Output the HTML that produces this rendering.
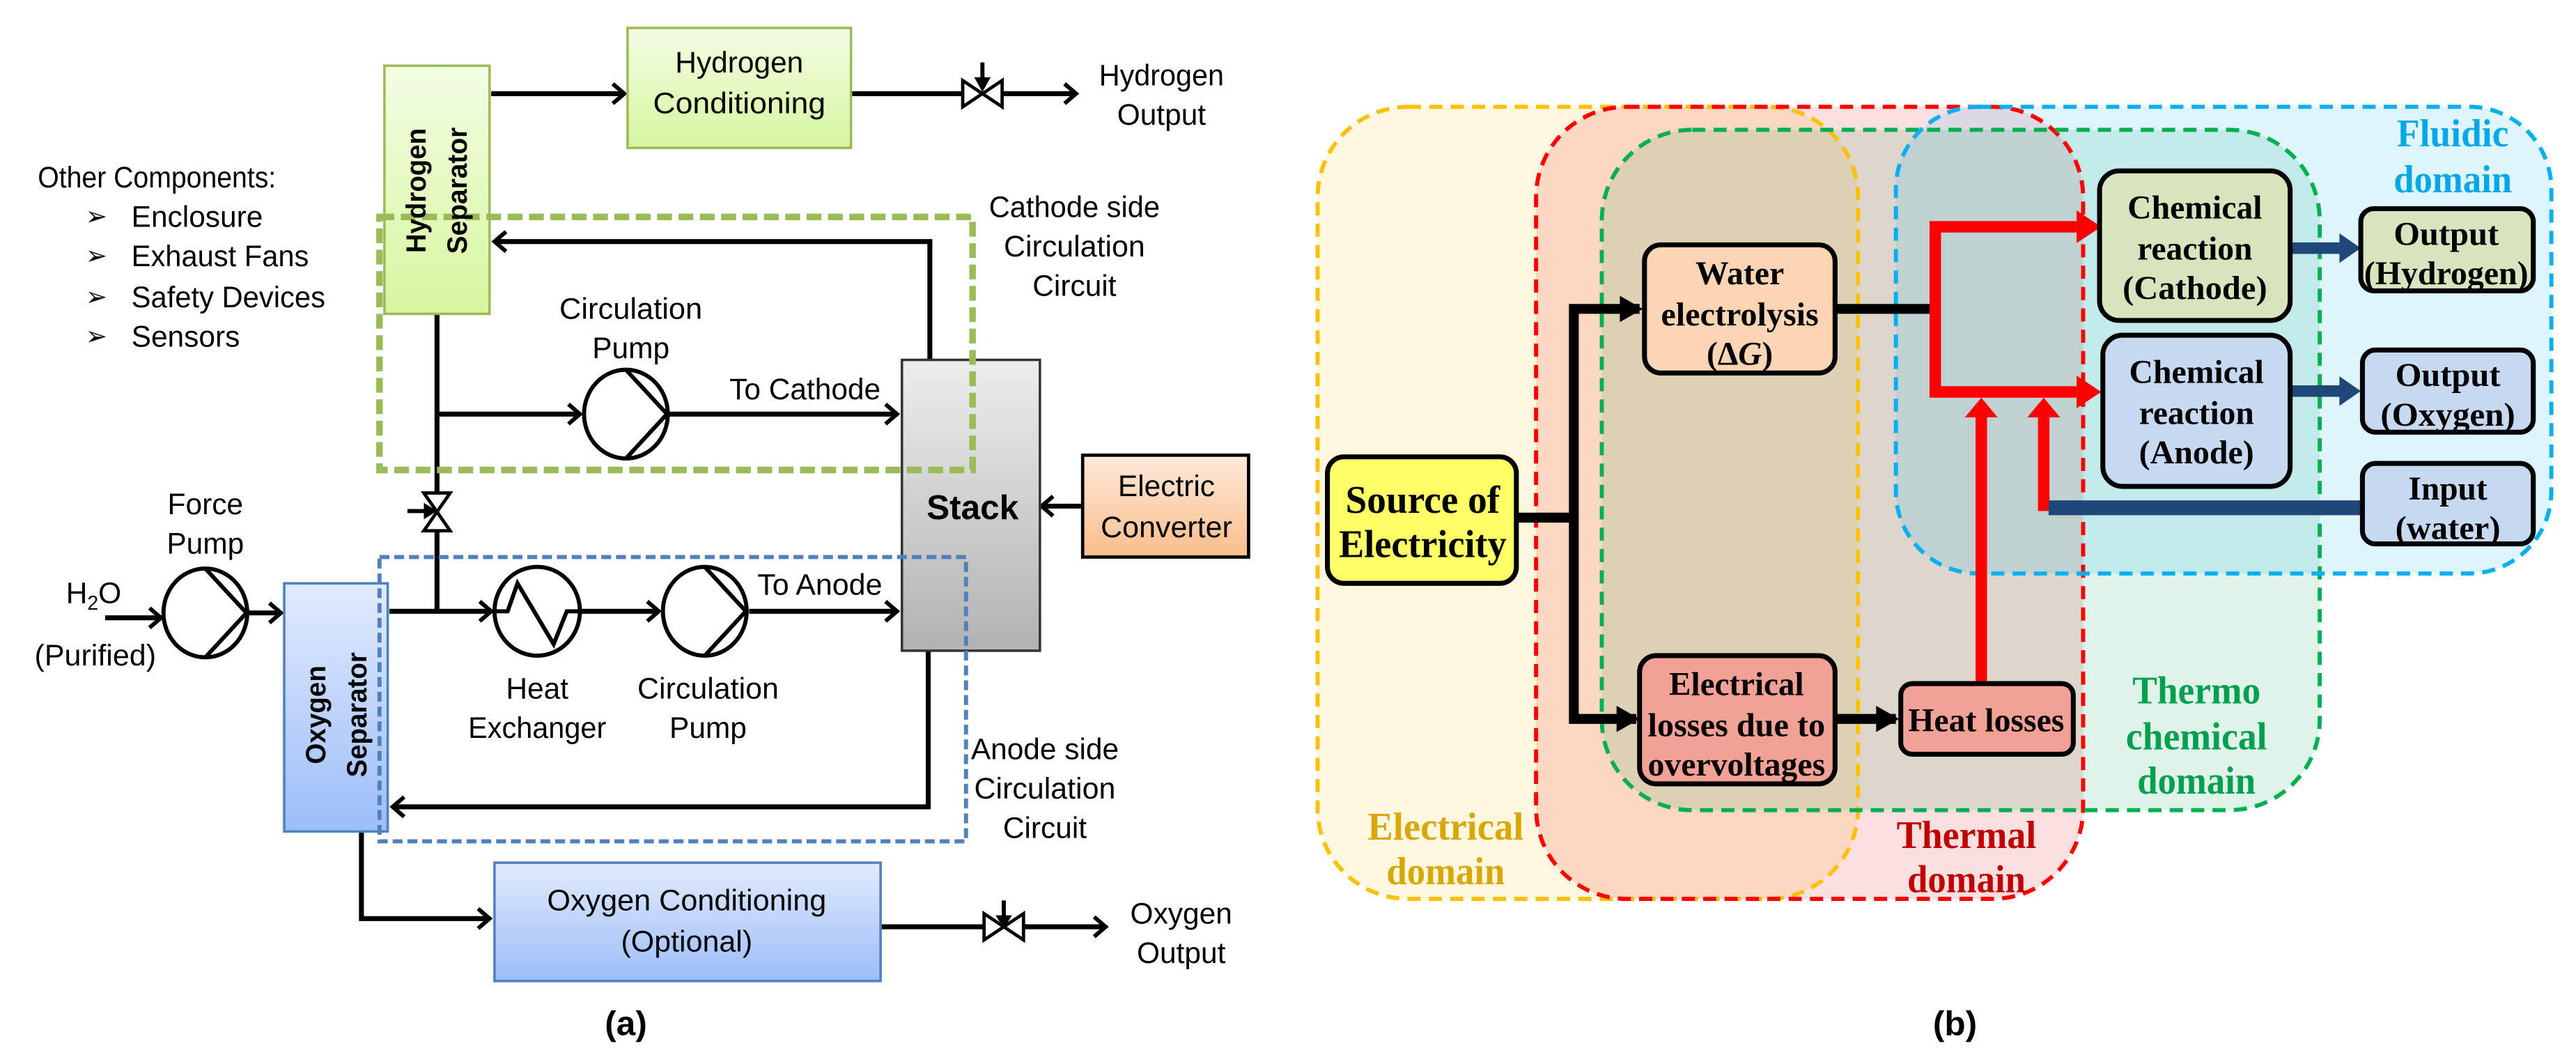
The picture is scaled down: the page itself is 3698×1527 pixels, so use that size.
<!DOCTYPE html>
<html><head><meta charset="utf-8"><style>
html,body{margin:0;padding:0;background:#fff;}
svg{display:block;}
.a{font-family:"Liberation Sans",sans-serif;font-size:18px;fill:#000;}
.b{font-family:"Liberation Serif",serif;font-weight:bold;font-size:20px;fill:#000;}
</style></head><body>
<svg width="3698" height="1527" viewBox="0 0 1568 647.5" preserveAspectRatio="none" xmlns="http://www.w3.org/2000/svg">
<defs>
<linearGradient id="gG" x1="0" y1="0" x2="0" y2="1"><stop offset="0" stop-color="#f3fde3"/><stop offset="1" stop-color="#d6f6a0"/></linearGradient>
<linearGradient id="gB" x1="0" y1="0" x2="0" y2="1"><stop offset="0" stop-color="#e2ebfd"/><stop offset="1" stop-color="#9cbdf9"/></linearGradient>
<linearGradient id="gS" x1="0" y1="0" x2="0" y2="1"><stop offset="0" stop-color="#ededed"/><stop offset="1" stop-color="#b2b2b2"/></linearGradient>
<linearGradient id="gO" x1="0" y1="0" x2="0" y2="1"><stop offset="0" stop-color="#fde9d9"/><stop offset="1" stop-color="#fbbd8c"/></linearGradient>
<marker id="ma" markerWidth="12" markerHeight="14" refX="9" refY="7" orient="auto" markerUnits="userSpaceOnUse"><path d="M2,1 L9,7 L2,13" fill="none" stroke="#000" stroke-width="2.5"/></marker>
</defs>

<!-- ============ PANEL A ============ -->
<g stroke="#000" stroke-width="3" fill="none">
<line x1="299" y1="57" x2="380" y2="57" marker-end="url(#ma)"/>
<line x1="518" y1="57" x2="586" y2="57"/>
<line x1="610" y1="57" x2="655" y2="57" marker-end="url(#ma)"/>
<polyline points="566,219 566,147 301,147" marker-end="url(#ma)"/>
<line x1="266" y1="191" x2="266" y2="300"/>
<line x1="266" y1="323" x2="266" y2="372"/>
<line x1="266" y1="252" x2="353" y2="252" marker-end="url(#ma)"/>
<line x1="407" y1="252" x2="546" y2="252" marker-end="url(#ma)"/>
<line x1="658" y1="308" x2="634" y2="308" marker-end="url(#ma)"/>
<line x1="64" y1="376" x2="98" y2="376" marker-end="url(#ma)"/>
<line x1="151" y1="373" x2="171" y2="373" marker-end="url(#ma)"/>
<line x1="237" y1="372" x2="299" y2="372" marker-end="url(#ma)"/>
<line x1="354" y1="372" x2="401" y2="372" marker-end="url(#ma)"/>
<line x1="456" y1="372" x2="546" y2="372" marker-end="url(#ma)"/>
<polyline points="565,396 565,491 239,491" marker-end="url(#ma)"/>
<polyline points="220,506 220,559 298,559" marker-end="url(#ma)"/>
<line x1="536" y1="564" x2="599" y2="564"/>
<line x1="623" y1="564" x2="673" y2="564" marker-end="url(#ma)"/>
</g>
<rect x="234" y="40" width="64" height="151" fill="url(#gG)" stroke="#9bbb59" stroke-width="1.5"/>
<rect x="382" y="17" width="136" height="73" fill="url(#gG)" stroke="#9bbb59" stroke-width="1.5"/>
<rect x="549" y="219" width="84" height="177" fill="url(#gS)" stroke="#333" stroke-width="1.5"/>
<rect x="659" y="277" width="101" height="62" fill="url(#gO)" stroke="#000" stroke-width="2"/>
<rect x="173" y="355" width="63" height="151" fill="url(#gB)" stroke="#4f81bd" stroke-width="1.5"/>
<rect x="301" y="525" width="235" height="72" fill="url(#gB)" stroke="#4f81bd" stroke-width="1.5"/>
<rect x="231" y="132" width="361" height="154" fill="none" stroke="#9bbb59" stroke-width="4" stroke-dasharray="9,4"/>
<rect x="231" y="339" width="357" height="173" fill="none" stroke="#4f81bd" stroke-width="2.5" stroke-dasharray="6,3"/>
<g stroke="#000" stroke-width="2.5" fill="none">
<ellipse cx="381" cy="252" rx="25.5" ry="27"/><path d="M381,225 L406,252 L381,279"/>
<ellipse cx="125" cy="373" rx="25.5" ry="27"/><path d="M125,346 L150,373 L125,400"/>
<ellipse cx="429" cy="372" rx="25.5" ry="27"/><path d="M429,345 L454,372 L429,399"/>
<ellipse cx="327" cy="372" rx="26" ry="27"/><path d="M302,372 L309,372 L315,355 L337,392 L345,372 L354,372"/>
</g>
<g stroke="#000" stroke-width="2" fill="#fff">
<path d="M586,49 L610,65 L610,49 L586,65 Z"/>
<path d="M599,556 L623,572 L623,556 L599,572 Z"/>
<path d="M258,300 L274,323 L258,323 L274,300 Z"/>
</g>
<g stroke="#000" stroke-width="2.5"><line x1="598" y1="38" x2="598" y2="50"/><line x1="611" y1="548" x2="611" y2="559"/><line x1="248" y1="311" x2="260" y2="311"/></g>
<path d="M593,47 L603,47 L598,56 Z" fill="#000"/>
<path d="M606,557 L616,557 L611,565 Z" fill="#000"/>
<path d="M258,306 L258,316 L266,311 Z" fill="#000"/>
<g class="a" text-anchor="middle">
<text x="450" y="44" textLength="78" lengthAdjust="spacingAndGlyphs">Hydrogen</text><text x="450" y="69" textLength="105" lengthAdjust="spacingAndGlyphs">Conditioning</text>
<text x="707" y="52" textLength="76" lengthAdjust="spacingAndGlyphs">Hydrogen</text><text x="707" y="76">Output</text>
<text x="654" y="132" textLength="104" lengthAdjust="spacingAndGlyphs">Cathode side</text><text x="654" y="156" textLength="86" lengthAdjust="spacingAndGlyphs">Circulation</text><text x="654" y="180">Circuit</text>
<text x="384" y="194" textLength="87" lengthAdjust="spacingAndGlyphs">Circulation</text><text x="384" y="218">Pump</text>
<text x="490" y="243" textLength="92" lengthAdjust="spacingAndGlyphs">To Cathode</text>
<text x="499" y="362" textLength="76" lengthAdjust="spacingAndGlyphs">To Anode</text>
<text x="710" y="302">Electric</text><text x="710" y="327" textLength="80" lengthAdjust="spacingAndGlyphs">Converter</text>
<text x="592" y="316" style="font-weight:bold;font-size:21px">Stack</text>
<text x="125" y="313">Force</text><text x="125" y="337">Pump</text>
<text x="57" y="367">H<tspan font-size="12" dy="4">2</tspan><tspan dy="-4">O</tspan></text>
<text x="58" y="405" textLength="74" lengthAdjust="spacingAndGlyphs">(Purified)</text>
<text x="327" y="425">Heat</text><text x="327" y="449" textLength="84" lengthAdjust="spacingAndGlyphs">Exchanger</text>
<text x="431" y="425" textLength="86" lengthAdjust="spacingAndGlyphs">Circulation</text><text x="431" y="449">Pump</text>
<text x="636" y="462" textLength="90" lengthAdjust="spacingAndGlyphs">Anode side</text><text x="636" y="486" textLength="86" lengthAdjust="spacingAndGlyphs">Circulation</text><text x="636" y="510">Circuit</text>
<text x="418" y="554" textLength="170" lengthAdjust="spacingAndGlyphs">Oxygen Conditioning</text><text x="418" y="579" textLength="80" lengthAdjust="spacingAndGlyphs">(Optional)</text>
<text x="719" y="562">Oxygen</text><text x="719" y="586">Output</text>
<text x="381" y="630" style="font-weight:bold;font-size:21px">(a)</text>
</g>
<g class="a">
<text x="23" y="114" textLength="145" lengthAdjust="spacingAndGlyphs">Other Components:</text>
<text x="80" y="138" textLength="80" lengthAdjust="spacingAndGlyphs">Enclosure</text>
<text x="80" y="162" textLength="108" lengthAdjust="spacingAndGlyphs">Exhaust Fans</text>
<text x="80" y="187" textLength="118" lengthAdjust="spacingAndGlyphs">Safety Devices</text>
<text x="80" y="211" textLength="66" lengthAdjust="spacingAndGlyphs">Sensors</text>
<text x="52" y="137" font-size="16">➢</text>
<text x="52" y="161" font-size="16">➢</text>
<text x="52" y="186" font-size="16">➢</text>
<text x="52" y="210" font-size="16">➢</text>
</g>
<g class="a" text-anchor="middle" style="font-weight:bold;font-size:17px">
<text transform="translate(259,116) rotate(-90)" textLength="76" lengthAdjust="spacingAndGlyphs">Hydrogen</text>
<text transform="translate(284,116) rotate(-90)" textLength="77" lengthAdjust="spacingAndGlyphs">Separator</text>
<text transform="translate(198,435) rotate(-90)" textLength="60" lengthAdjust="spacingAndGlyphs">Oxygen</text>
<text transform="translate(223,435) rotate(-90)" textLength="76" lengthAdjust="spacingAndGlyphs">Separator</text>
</g>

<!-- ============ PANEL B ============ -->
<rect x="802" y="65" width="329" height="482" rx="55" fill="#ffc000" fill-opacity="0.13"/>
<rect x="935" y="65" width="333" height="482" rx="55" fill="#ee4040" fill-opacity="0.17"/>
<rect x="975" y="79" width="437" height="414" rx="55" fill="#00a050" fill-opacity="0.12"/>
<rect x="1154" y="65" width="399" height="284" rx="50" fill="#00b0f0" fill-opacity="0.13"/>
<g fill="none" stroke-width="2.5" stroke-dasharray="8,5">
<rect x="802" y="65" width="329" height="482" rx="55" stroke="#ffc000"/>
<rect x="935" y="65" width="333" height="482" rx="55" stroke="#ff0000"/>
<rect x="975" y="79" width="437" height="414" rx="55" stroke="#00b050"/>
<rect x="1154" y="65" width="399" height="284" rx="50" stroke="#00b0f0"/>
</g>
<g stroke="#000" stroke-width="6" fill="none">
<line x1="923" y1="315" x2="958" y2="315"/>
<polyline points="998,188 958,188 958,437.5 996,437.5" stroke-linejoin="miter"/>
<line x1="1117" y1="188" x2="1178" y2="188"/>
<line x1="1117" y1="437.5" x2="1154" y2="437.5"/>
</g>
<path d="M986,180 L1000,188 L986,196 Z M984,429.5 L998,437.5 L984,445.5 Z M1142,429.5 L1156,437.5 L1142,445.5 Z" fill="#000"/>
<g stroke="#ff0000" stroke-width="7" fill="none">
<polyline points="1264,138 1178,138 1178,238.5 1264,238.5"/>
<line x1="1206" y1="416" x2="1206" y2="252"/>
<line x1="1244" y1="311" x2="1244" y2="252"/>
</g>
<path d="M1264,128 L1279,138 L1264,148 Z M1264,228.5 L1279,238.5 L1264,248.5 Z M1196,254 L1206,242 L1216,254 Z M1234,254 L1244,242 L1254,254 Z" fill="#ff0000"/>
<g stroke="#1f4878" fill="none">
<line x1="1247" y1="309" x2="1438" y2="309" stroke-width="9"/>
<line x1="1394" y1="151" x2="1426" y2="151" stroke-width="7"/>
<line x1="1394" y1="238" x2="1426" y2="238" stroke-width="7"/>
</g>
<path d="M1424,142 L1437,151 L1424,160 Z M1424,229 L1437,238 L1424,247 Z" fill="#1f4878"/>
<g stroke="#000" stroke-width="3">
<rect x="808" y="278" width="115" height="77" rx="10" fill="#ffff66"/>
<rect x="1001" y="149" width="116" height="78" rx="10" fill="#fcd5b5"/>
<rect x="998" y="399" width="119" height="78" rx="10" fill="#f2a196"/>
<rect x="1157" y="416" width="105" height="43" rx="7" fill="#f2a196"/>
<rect x="1278" y="104" width="116" height="91" rx="12" fill="#d7e4bd"/>
<rect x="1280" y="204" width="114" height="92" rx="12" fill="#c6d9f1"/>
<rect x="1437" y="127" width="105" height="50" rx="8" fill="#d7e4bd"/>
<rect x="1438" y="213" width="104" height="50" rx="8" fill="#c6d9f1"/>
<rect x="1438" y="282" width="104" height="49" rx="8" fill="#c6d9f1"/>
</g>
<g class="b" text-anchor="middle">
<text x="866" y="312" font-size="24" textLength="94" lengthAdjust="spacingAndGlyphs">Source of</text><text x="866" y="339" font-size="24" textLength="102" lengthAdjust="spacingAndGlyphs">Electricity</text>
<text x="1059" y="173" textLength="54" lengthAdjust="spacingAndGlyphs">Water</text><text x="1059" y="198" textLength="96" lengthAdjust="spacingAndGlyphs">electrolysis</text><text x="1059" y="222">(Δ<tspan font-style="italic">G</tspan>)</text>
<text x="1057" y="423" textLength="82" lengthAdjust="spacingAndGlyphs">Electrical</text><text x="1057" y="448" textLength="108" lengthAdjust="spacingAndGlyphs">losses due to</text><text x="1057" y="472" textLength="108" lengthAdjust="spacingAndGlyphs">overvoltages</text>
<text x="1209" y="445" textLength="95" lengthAdjust="spacingAndGlyphs">Heat losses</text>
<text x="1336" y="133" textLength="82" lengthAdjust="spacingAndGlyphs">Chemical</text><text x="1336" y="158" textLength="70" lengthAdjust="spacingAndGlyphs">reaction</text><text x="1336" y="182" textLength="88" lengthAdjust="spacingAndGlyphs">(Cathode)</text>
<text x="1337" y="233" textLength="82" lengthAdjust="spacingAndGlyphs">Chemical</text><text x="1337" y="258" textLength="70" lengthAdjust="spacingAndGlyphs">reaction</text><text x="1337" y="282" textLength="70" lengthAdjust="spacingAndGlyphs">(Anode)</text>
<text x="1489" y="149" textLength="64" lengthAdjust="spacingAndGlyphs">Output</text><text x="1489" y="173" textLength="100" lengthAdjust="spacingAndGlyphs">(Hydrogen)</text>
<text x="1490" y="235" textLength="64" lengthAdjust="spacingAndGlyphs">Output</text><text x="1490" y="259" textLength="82" lengthAdjust="spacingAndGlyphs">(Oxygen)</text>
<text x="1490" y="304" textLength="48" lengthAdjust="spacingAndGlyphs">Input</text><text x="1490" y="328" textLength="64" lengthAdjust="spacingAndGlyphs">(water)</text>
</g>
<g class="b" text-anchor="middle" font-size="24">
<text x="1493" y="89" fill="#00a8e8" font-size="24" textLength="68" lengthAdjust="spacingAndGlyphs">Fluidic</text><text x="1493" y="117" fill="#00a8e8" font-size="24" textLength="72" lengthAdjust="spacingAndGlyphs">domain</text>
<text x="1337" y="428" fill="#00a050" font-size="24" textLength="78" lengthAdjust="spacingAndGlyphs">Thermo</text><text x="1337" y="456" fill="#00a050" font-size="24" textLength="86" lengthAdjust="spacingAndGlyphs">chemical</text><text x="1337" y="483" fill="#00a050" font-size="24" textLength="72" lengthAdjust="spacingAndGlyphs">domain</text>
<text x="880" y="511" fill="#d9a800" font-size="24" textLength="95" lengthAdjust="spacingAndGlyphs">Electrical</text><text x="880" y="538" fill="#d9a800" font-size="24" textLength="72" lengthAdjust="spacingAndGlyphs">domain</text>
<text x="1197" y="516" fill="#c00000" font-size="24" textLength="85" lengthAdjust="spacingAndGlyphs">Thermal</text><text x="1197" y="543" fill="#c00000" font-size="24" textLength="72" lengthAdjust="spacingAndGlyphs">domain</text>
</g>
<text x="1190" y="630" class="a" text-anchor="middle" style="font-weight:bold;font-size:21px">(b)</text>
</svg>
</body></html>
